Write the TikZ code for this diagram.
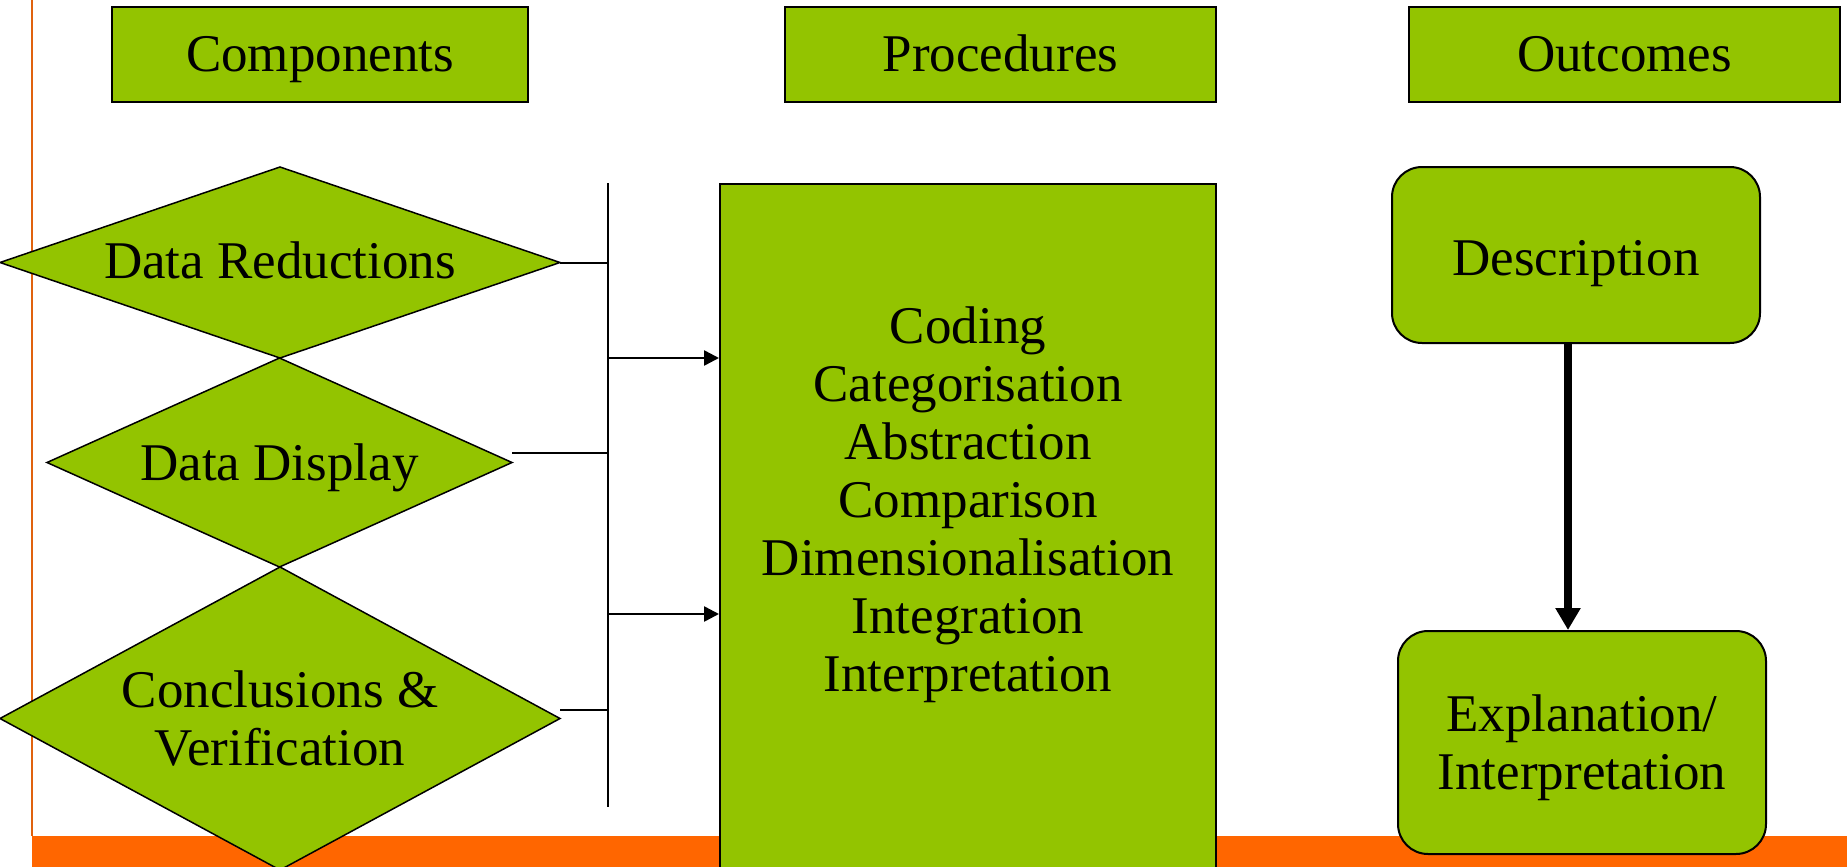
\documentclass[tikz,border=0pt]{standalone}
\usepackage{fontspec}
\setmainfont{Liberation Serif}
\usetikzlibrary{positioning, arrows.meta, shapes.geometric}
\definecolor{leaf}{HTML}{93C400}
\definecolor{flame}{HTML}{FF6600}
\definecolor{rust}{HTML}{E0620E}
\newcommand{\slidefont}{\fontsize{53pt}{58pt}\selectfont}
\newcommand{\dropped}[2]{\raisebox{-#1}[\height][\depth]{\begin{tabular}{@{}c@{}}#2\end{tabular}}}
\tikzset{
  head/.style    = {rectangle, draw=black, line width=2pt, fill=leaf,
                    minimum width=416pt, minimum height=95pt, inner sep=0pt,
                    text height=46pt, text depth=12pt, font=\slidefont},
  stage/.style   = {diamond, draw=black, line width=1.5pt, fill=leaf,
                    inner sep=0pt, outer sep=0pt, align=center, font=\slidefont},
  outcome/.style = {rectangle, rounded corners=30pt, draw=black, line width=2pt,
                    fill=leaf, minimum width=368pt, align=center, font=\slidefont},
  link/.style    = {line width=2pt, draw=black},
  ar/.style      = {-{Triangle[length=15pt,width=15pt]}, line width=2.5pt, draw=black},
  bigar/.style   = {-{Triangle[length=22pt,width=24pt]}, line width=8pt, draw=black},
}

\begin{document}
\begin{tikzpicture}[x=1pt, y=-1pt]
  \useasboundingbox (0,0) rectangle (1847,867);

  % ----- slide frame -----
  \fill[flame] (32,836) rectangle (1847,867);
  \draw[rust, line width=2pt] (32,0) -- (32,836);

  % ----- column heads -----
  \node[head] (hcomp) at (320,54.5) {Components};
  \node[head, minimum width=431pt] (hproc) at (1000.5,54.5) {Procedures};
  \node[head, minimum width=431pt] (hout)  at (1624.5,54.5) {Outcomes};

  % ----- components -----
  \node[stage, aspect=2.93, minimum width=560pt, minimum height=191pt,
        text height=43pt, text depth=12pt]
    (dred) at (280,262.5) {Data Reductions};
  \node[stage, aspect=2.22, minimum width=465pt, minimum height=209pt,
        text height=48pt, text depth=12pt]
    (ddisp) at (279.5,462.5) {Data Display};
  \node[stage, aspect=1.85, minimum width=560pt, minimum height=303pt]
    (dconc) at (280,718.5) {Conclusions \&\\Verification};

  % bus
  \coordinate (bustop) at (608,183);
  \coordinate (busbot) at (608,807);
  \draw[link] (bustop) -- (busbot);
  \draw[link] (dred.east) -- (dred.east -| bustop);
  \draw[link] ([yshift=10pt]ddisp.east) -- ([yshift=10pt]ddisp.east -| bustop);
  \draw[link] ([yshift=9pt]dconc.east) -- ([yshift=9pt]dconc.east -| bustop);

  % ----- procedures -----
  \node[rectangle, draw=black, line width=2pt, fill=leaf, minimum width=496pt,
        minimum height=720pt, anchor=north] (proc) at (968,183) {};
  \node[font=\slidefont, align=center] (steps) at (968,505)
    {Coding\\Categorisation\\Abstraction\\Comparison\\Dimensionalisation\\Integration\\Interpretation};

  \coordinate (tapa) at (608,358);
  \coordinate (tapb) at (608,614);
  \draw[ar] (tapa) -- (tapa -| proc.west);
  \draw[ar] (tapb) -- (tapb -| proc.west);

  % ----- outcomes -----
  \node[outcome, minimum height=176pt, text height=52pt, text depth=12pt]
    (desc) at (1576,255) {Description};
  \node[outcome, minimum height=223pt]
    (expl) at (1582,742.5) {\dropped{6pt}{Explanation/\\Interpretation}};
  \draw[bigar] ([xshift=-8pt]desc.south) -- ([xshift=-8pt]desc.south |- expl.north);

\end{tikzpicture}
\end{document}
